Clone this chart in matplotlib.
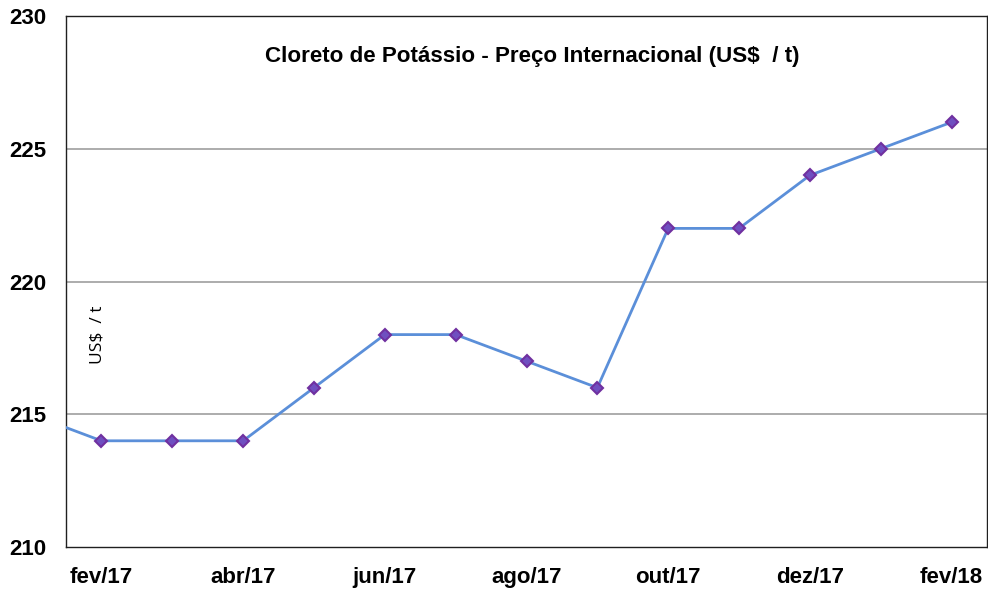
import matplotlib
matplotlib.use("Agg")
import matplotlib.pyplot as plt

months = ["jan/17", "fev/17", "mar/17", "abr/17", "mai/17", "jun/17", "jul/17",
          "ago/17", "set/17", "out/17", "nov/17", "dez/17", "jan/18", "fev/18"]
prices = [215, 214, 214, 214, 216, 218, 218, 217, 216, 222, 222, 224, 225, 226]
yticks = [210, 215, 220, 225, 230]

fig = plt.figure(figsize=(9.88, 5.89), dpi=100)
ax = fig.add_axes([66/988, 42/589, (987-66)/988, (547-16)/589])

x = list(range(len(months)))
ax.plot(x, prices, color="#5B8FD9", lw=2.0, zorder=3)
ax.plot(x[1:], prices[1:], ls="none", marker="D", markersize=6.3,
        markerfacecolor="#6F4FC0", markeredgecolor="#7030A0", markeredgewidth=1.5, zorder=4)

ax.set_xlim(0.5, len(months) - 0.5)
ax.set_ylim(210, 230)
ax.set_yticks(yticks)
ax.set_yticklabels([str(v) for v in yticks], fontsize=16, fontweight="bold",
                   family="Liberation Sans")
ax.set_xticks(x[1::2])
ax.set_xticklabels(months[1::2], fontsize=16, fontweight="bold", family="Liberation Sans")
ax.tick_params(axis="both", length=0)
ax.tick_params(axis="y", pad=14)
ax.tick_params(axis="x", pad=14.5)

for v in yticks[1:-1]:
    ax.axhline(v, color="#A6A6A6", lw=1.3, zorder=1)

for s in ax.spines.values():
    s.set_color("#202020")
    s.set_linewidth(1.0)

ax.text(0.5065, 0.923, "Cloreto de Potássio - Preço Internacional (US$  / t)",
        transform=ax.transAxes, ha="center", va="center", fontsize=16.1,
        fontweight="bold", family="Liberation Sans")
ax.text(0.034, 0.40, "US$  / t", transform=ax.transAxes, rotation=90,
        ha="center", va="center", fontsize=12.5, family="Open Sans")

fig.savefig("out.png", dpi=100)
